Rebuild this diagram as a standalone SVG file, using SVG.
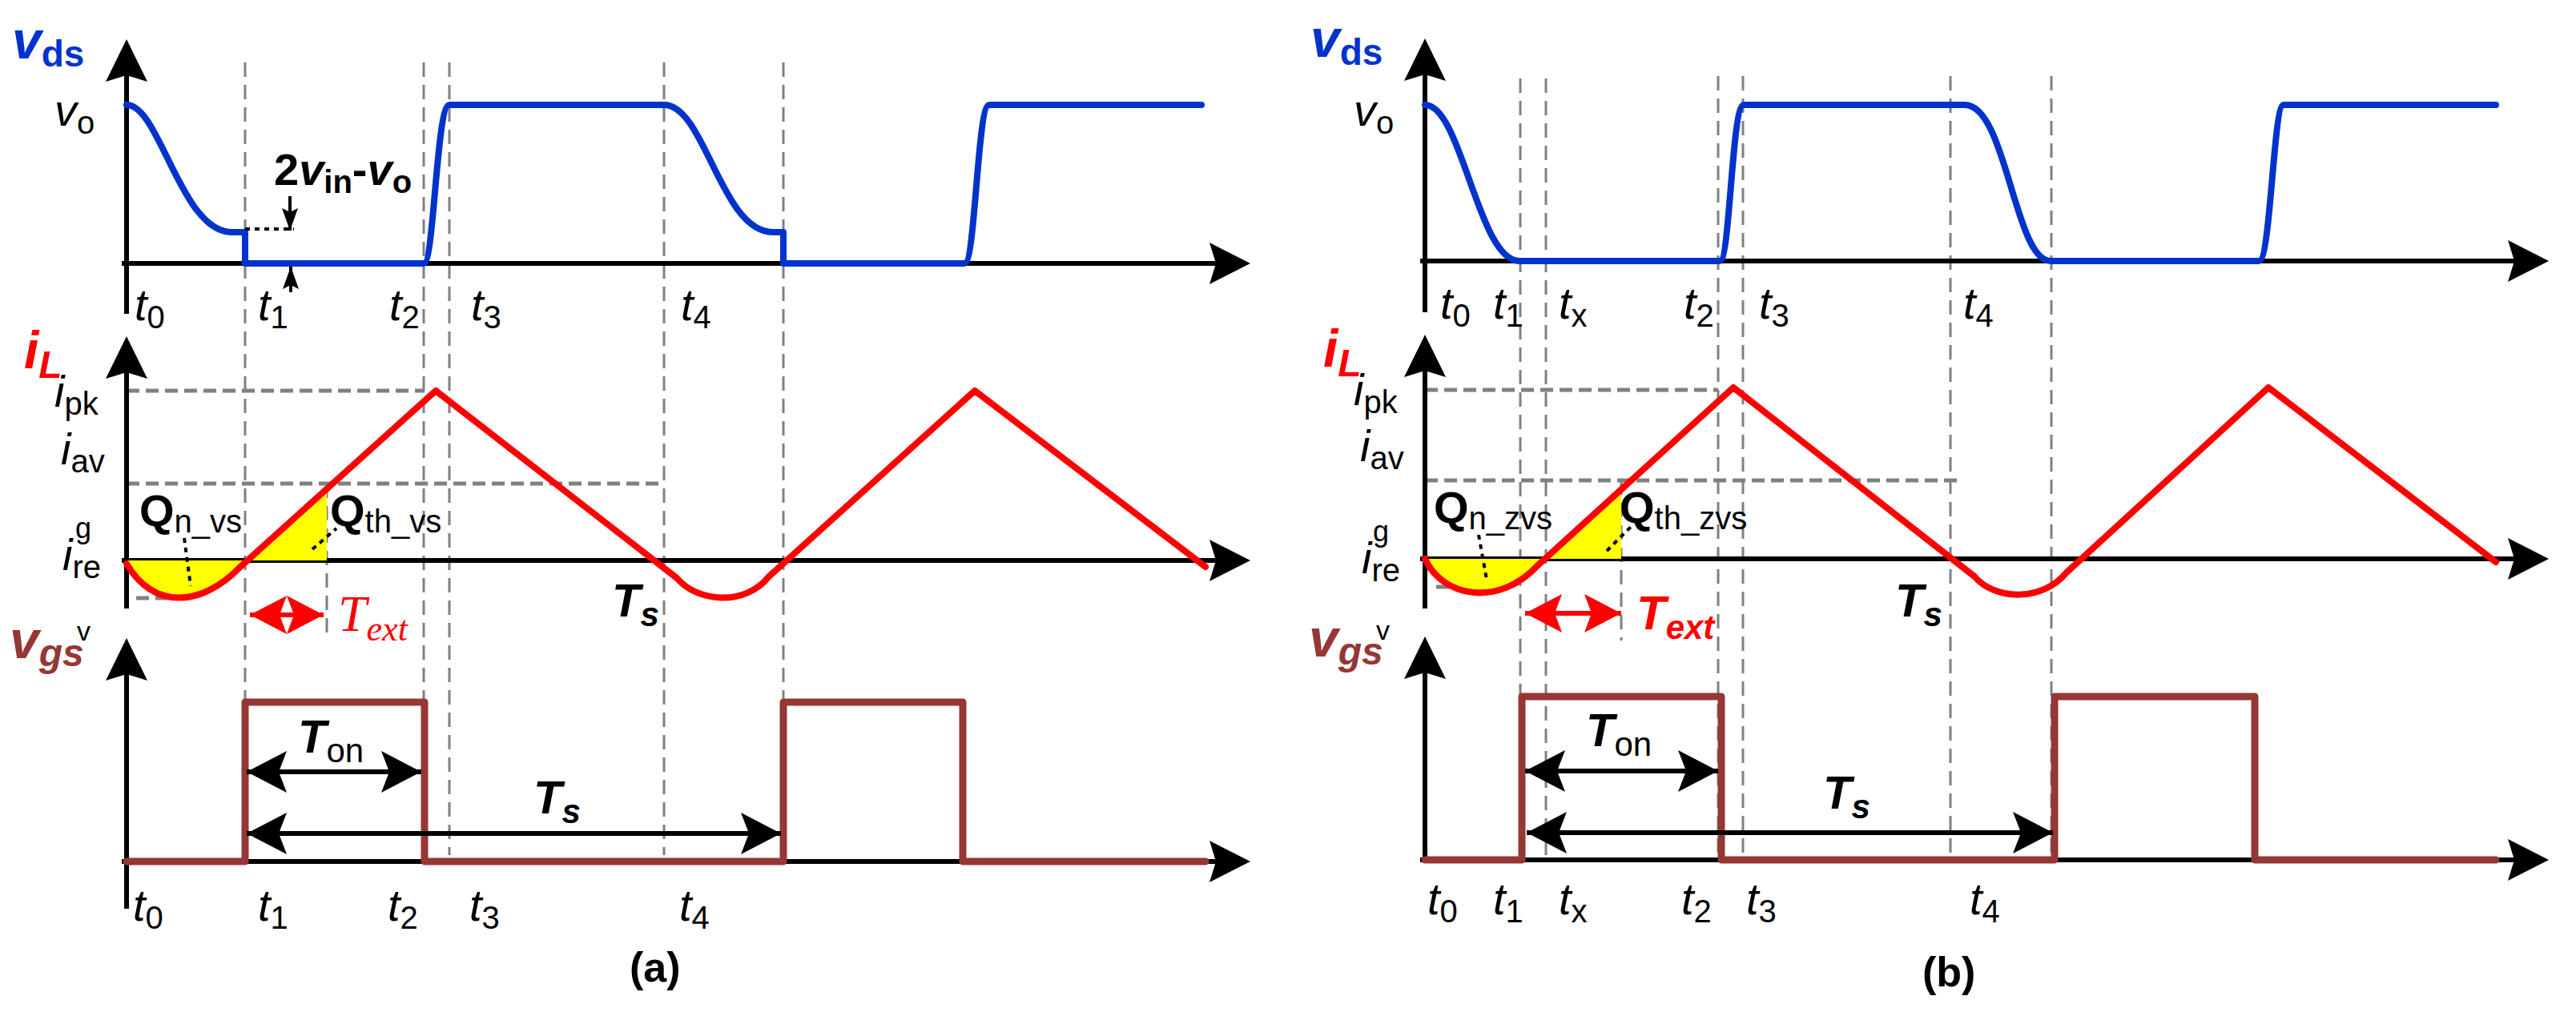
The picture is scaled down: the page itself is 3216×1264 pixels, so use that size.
<svg xmlns="http://www.w3.org/2000/svg" width="3216" height="1264" viewBox="0 0 3216 1264">
<defs>
<style>
text{font-family:"Liberation Sans",Arial,sans-serif;fill:#000}
.ax{stroke:#000;stroke-width:6;fill:none}
.ah{fill:#000}
.dsh{stroke:#808080;stroke-width:3;stroke-dasharray:18 10;fill:none}
.gd{stroke:#808080;stroke-width:5;stroke-dasharray:16 8;fill:none}
.blue{stroke:#0033CC;stroke-width:8;fill:none;stroke-linejoin:round;stroke-linecap:round}
.red{stroke:#FF0000;stroke-width:8;fill:none;stroke-linejoin:round;stroke-linecap:round}
.brn{stroke:#953735;stroke-width:9;fill:none;stroke-linejoin:round;stroke-linecap:round}
.yel{fill:#FFFF00;stroke:none}
.dot{stroke:#000;stroke-width:4;stroke-dasharray:6 6;fill:none}
.dbl{stroke:#000;stroke-width:6;fill:none}
.dblr{stroke:#FF0000;stroke-width:6;fill:none}
.t{font-style:italic;font-size:56px}
.sub{font-size:40px;font-style:normal}
.lb{font-weight:bold;font-size:56px}
.lbs{font-weight:bold;font-size:40px}
</style>
<marker id="ha" markerUnits="userSpaceOnUse" markerWidth="52" markerHeight="56" refX="50" refY="28" orient="auto-start-reverse"><path d="M0,2 L50,28 L0,54 L10,28 Z" fill="#000"/></marker>
<marker id="hr" markerUnits="userSpaceOnUse" markerWidth="48" markerHeight="52" refX="46" refY="26" orient="auto-start-reverse"><path d="M0,2 L46,26 L0,50 L9,26 Z" fill="#FF0000"/></marker>
<marker id="hs" markerUnits="userSpaceOnUse" markerWidth="30" markerHeight="24" refX="28" refY="12" orient="auto"><path d="M0,2 L28,12 L0,22 L5,12 Z" fill="#000"/></marker>
</defs>

<!-- ===== Panel (a) ===== -->
<g id="gridA">
<path class="dsh" d="M306,78V1068M529,78V1068M561,78V1068M829,78V1068M978,78V1068"/>
<path class="gd" d="M158,488H530M158,604H829M170,747H235"/>
<path class="dsh" d="M408,604V797"/>
</g>
<g id="axesA">
<path class="ax" d="M158,90V392M158,92H158M152,329H1520"/>
<path class="ah" d="M158,49L184,102L158,94L132,102Z"/>
<path class="ah" d="M1561,329L1510,355L1518,329L1510,303Z"/>
<path class="ax" d="M158,460V760M152,700H1520"/>
<path class="ah" d="M158,420L184,473L158,465L132,473Z"/>
<path class="ah" d="M1561,700L1510,726L1518,700L1510,674Z"/>
<path class="ax" d="M158,838V1135M152,1076H1520"/>
<path class="ah" d="M158,797L184,850L158,842L132,850Z"/>
<path class="ah" d="M1561,1076L1510,1102L1518,1076L1510,1050Z"/>
</g>
<g id="wavesA">
<path class="blue" d="M158,131 C200,131 225,290 290,290 L306,290 L306,329 L529,329 C542,329 545,131 561,131 L829,131 C880,131 900,290 965,290 L978,290 L978,329 L1204,329 C1218,329 1220,131 1235,131 L1500,131"/>
<path class="yel" d="M158,700 L158,704 C190,760 250,760 300,708 L408,611 L408,700 Z"/>
<path class="red" d="M158,704 C190,760 250,760 300,708 L544,488 L845,722 C870,752 930,758 960,720 L1217,488 L1505,708"/>
<path class="brn" d="M158,1076 H306 V877 H530 V1076 H978 V877 H1202 V1076 H1505"/>
</g>
<g id="annotA">
<path class="dot" d="M306,286H367"/>
<path stroke="#000" stroke-width="4" fill="none" marker-end="url(#hs)" d="M362,245V288"/>
<path stroke="#000" stroke-width="4" fill="none" marker-end="url(#hs)" d="M363,365V333"/>
<path class="dot" d="M230,672L238,732M390,686L420,660"/>
<path class="dblr" marker-start="url(#hr)" marker-end="url(#hr)" d="M312,768H404"/>
<path class="dbl" marker-start="url(#ha)" marker-end="url(#ha)" d="M308,964H526"/>
<path class="dbl" marker-start="url(#ha)" marker-end="url(#ha)" d="M308,1041H975"/>
</g>
<g id="labelsA">
<text x="15" y="73" style="font-weight:bold;font-style:italic;font-size:66px;fill:#0033CC">v<tspan dy="10" style="font-size:46px;font-style:normal">ds</tspan></text>
<text x="68" y="157" class="t">v<tspan class="sub" dy="10">o</tspan></text>
<text x="342" y="231" class="lb">2<tspan font-style="italic">v</tspan><tspan class="lbs" dy="10">in</tspan><tspan dy="-10">-</tspan><tspan font-style="italic">v</tspan><tspan class="lbs" dy="10">o</tspan></text>
<text x="168" y="400" class="t">t<tspan class="sub" dy="10">0</tspan></text>
<text x="322" y="400" class="t">t<tspan class="sub" dy="10">1</tspan></text>
<text x="486" y="400" class="t">t<tspan class="sub" dy="10">2</tspan></text>
<text x="588" y="400" class="t">t<tspan class="sub" dy="10">3</tspan></text>
<text x="850" y="400" class="t">t<tspan class="sub" dy="10">4</tspan></text>
<text x="30" y="460" style="font-weight:bold;font-style:italic;font-size:66px;fill:#FF0000">i<tspan dy="12" style="font-size:48px">L</tspan></text>
<text x="68" y="508" class="t">i<tspan class="sub" dy="10">pk</tspan></text>
<text x="76" y="580" class="t">i<tspan class="sub" dy="10">av</tspan></text>
<text x="94" y="672" style="font-size:36px">g</text>
<text x="78" y="712" class="t">i<tspan class="sub" dy="10">re</tspan></text>
<text x="174" y="657" class="lb">Q<tspan class="lbs" style="font-weight:normal" dy="8">n_vs</tspan></text>
<text x="412" y="657" class="lb">Q<tspan class="lbs" style="font-weight:normal" dy="8">th_vs</tspan></text>
<text x="422" y="788" style="font-family:'Liberation Serif',serif;font-style:italic;font-size:64px;fill:#FF0000">T<tspan dy="12" style="font-size:44px">ext</tspan></text>
<text x="764" y="770" style="font-weight:bold;font-style:italic;font-size:58px">T<tspan dy="12" style="font-size:42px">s</tspan></text>
<text x="12" y="822" style="font-weight:bold;font-style:italic;font-size:66px;fill:#953735">v<tspan dy="10" style="font-size:48px">gs</tspan></text>
<text x="96" y="800" style="font-size:34px">v</text>
<text x="372" y="940" style="font-weight:bold;font-style:italic;font-size:58px">T<tspan dy="12" style="font-size:42px;font-style:normal;font-weight:normal">on</tspan></text>
<text x="666" y="1016" style="font-weight:bold;font-style:italic;font-size:58px">T<tspan dy="12" style="font-size:42px">s</tspan></text>
<text x="166" y="1150" class="t">t<tspan class="sub" dy="10">0</tspan></text>
<text x="322" y="1150" class="t">t<tspan class="sub" dy="10">1</tspan></text>
<text x="484" y="1150" class="t">t<tspan class="sub" dy="10">2</tspan></text>
<text x="586" y="1150" class="t">t<tspan class="sub" dy="10">3</tspan></text>
<text x="848" y="1150" class="t">t<tspan class="sub" dy="10">4</tspan></text>
<text x="786" y="1226" style="font-weight:bold;font-size:52px">(a)</text>
</g>

<!-- ===== Panel (b) ===== -->
<g id="gridB">
<path class="dsh" d="M1898,98V1074M1930,98V1074M2145,95V1074M2176,95V1074M2435,95V1074M2561,95V1074"/>
<path class="gd" d="M1779,487H2145M1779,600H2443M1793,733H1822"/>
<path class="dsh" d="M2024,600V800"/>
</g>
<g id="axesB">
<path class="ax" d="M1779,90V390M1773,326H3140"/>
<path class="ah" d="M1779,48L1805,101L1779,93L1753,101Z"/>
<path class="ah" d="M3182,326L3131,352L3139,326L3131,300Z"/>
<path class="ax" d="M1779,458V760M1773,698H3140"/>
<path class="ah" d="M1779,418L1805,471L1779,463L1753,471Z"/>
<path class="ah" d="M3182,698L3131,724L3139,698L3131,672Z"/>
<path class="ax" d="M1779,836V1074M1773,1074H3140"/>
<path class="ah" d="M1779,795L1805,848L1779,840L1753,848Z"/>
<path class="ah" d="M3182,1074L3131,1100L3139,1074L3131,1048Z"/>
</g>
<g id="wavesB">
<path class="blue" d="M1779,131 C1825,131 1845,326 1897,326 L2147,326 C2160,326 2162,131 2177,131 L2453,131 C2505,131 2515,326 2560,326 L2820,326 C2835,326 2838,131 2851,131 L3116,131"/>
<path class="yel" d="M1779,698 C1800,745 1870,760 1920,706 L2024,611 L2024,698 Z"/>
<path class="red" d="M1779,698 C1800,745 1870,760 1920,706 L2164,484 L2465,720 C2490,750 2550,752 2580,715 L2832,484 L3116,702"/>
<path class="brn" d="M1779,1074 H1900 V870 H2149 V1074 H2565 V870 H2815 V1074 H3116"/>
</g>
<g id="annotB">
<path class="dot" d="M1846,668L1856,724M2006,688L2036,658"/>
<path class="dblr" marker-start="url(#hr)" marker-end="url(#hr)" d="M1904,766H2024"/>
<path class="dbl" marker-start="url(#ha)" marker-end="url(#ha)" d="M1904,963H2145"/>
<path class="dbl" marker-start="url(#ha)" marker-end="url(#ha)" d="M1906,1040H2563"/>
</g>
<g id="labelsB">
<text x="1636" y="71" style="font-weight:bold;font-style:italic;font-size:66px;fill:#0033CC">v<tspan dy="10" style="font-size:46px;font-style:normal">ds</tspan></text>
<text x="1690" y="157" class="t">v<tspan class="sub" dy="10">o</tspan></text>
<text x="1798" y="398" class="t">t<tspan class="sub" dy="10">0</tspan></text>
<text x="1864" y="398" class="t">t<tspan class="sub" dy="10">1</tspan></text>
<text x="1946" y="398" class="t">t<tspan class="sub" dy="10">x</tspan></text>
<text x="2102" y="398" class="t">t<tspan class="sub" dy="10">2</tspan></text>
<text x="2196" y="398" class="t">t<tspan class="sub" dy="10">3</tspan></text>
<text x="2451" y="398" class="t">t<tspan class="sub" dy="10">4</tspan></text>
<text x="1652" y="458" style="font-weight:bold;font-style:italic;font-size:66px;fill:#FF0000">i<tspan dy="12" style="font-size:48px">L</tspan></text>
<text x="1690" y="506" class="t">i<tspan class="sub" dy="10">pk</tspan></text>
<text x="1698" y="576" class="t">i<tspan class="sub" dy="10">av</tspan></text>
<text x="1714" y="676" style="font-size:36px">g</text>
<text x="1700" y="716" class="t">i<tspan class="sub" dy="10">re</tspan></text>
<text x="1790" y="653" class="lb">Q<tspan class="lbs" style="font-weight:normal" dy="8">n_zvs</tspan></text>
<text x="2022" y="653" class="lb">Q<tspan class="lbs" style="font-weight:normal" dy="8">th_zvs</tspan></text>
<text x="2043" y="786" style="font-weight:bold;font-style:italic;font-size:60px;fill:#FF0000">T<tspan dy="12" style="font-size:42px">ext</tspan></text>
<text x="2366" y="770" style="font-weight:bold;font-style:italic;font-size:58px">T<tspan dy="12" style="font-size:42px">s</tspan></text>
<text x="1634" y="820" style="font-weight:bold;font-style:italic;font-size:66px;fill:#953735">v<tspan dy="10" style="font-size:48px">gs</tspan></text>
<text x="1718" y="799" style="font-size:34px">v</text>
<text x="1980" y="932" style="font-weight:bold;font-style:italic;font-size:58px">T<tspan dy="12" style="font-size:42px;font-style:normal;font-weight:normal">on</tspan></text>
<text x="2276" y="1010" style="font-weight:bold;font-style:italic;font-size:58px">T<tspan dy="12" style="font-size:42px">s</tspan></text>
<text x="1782" y="1142" class="t">t<tspan class="sub" dy="10">0</tspan></text>
<text x="1864" y="1142" class="t">t<tspan class="sub" dy="10">1</tspan></text>
<text x="1946" y="1142" class="t">t<tspan class="sub" dy="10">x</tspan></text>
<text x="2099" y="1142" class="t">t<tspan class="sub" dy="10">2</tspan></text>
<text x="2180" y="1142" class="t">t<tspan class="sub" dy="10">3</tspan></text>
<text x="2459" y="1142" class="t">t<tspan class="sub" dy="10">4</tspan></text>
<text x="2400" y="1232" style="font-weight:bold;font-size:52px">(b)</text>
</g>
</svg>
